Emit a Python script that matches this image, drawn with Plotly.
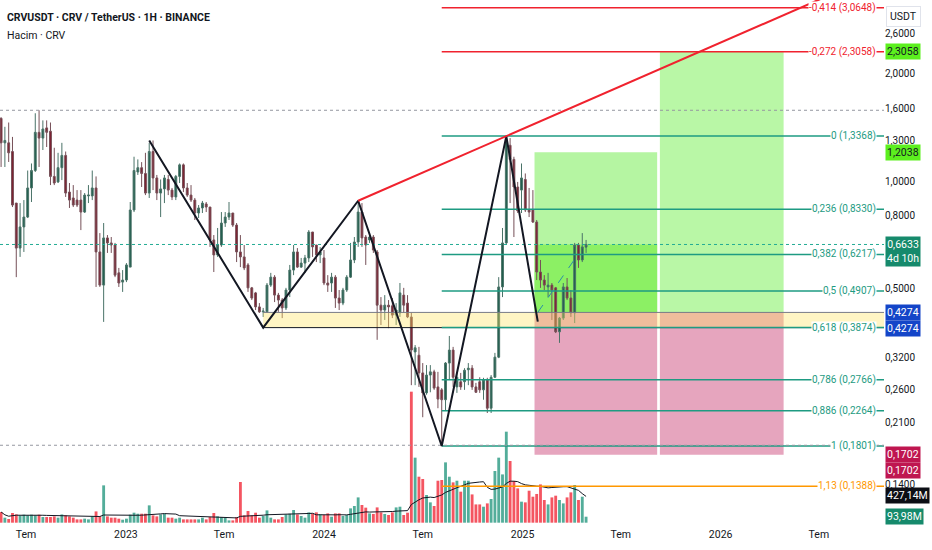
import math
import numpy as np
import pandas as pd
import plotly.graph_objects as go

# weekly candles CRV/USDT
FIRST_BAR = "2022-05-16"
OPEN = [1.50, 1.28, 1.28, 1.21, 0.867, 0.648, 0.743, 0.792, 0.956, 1.07,
        1.37, 1.32, 1.41, 1.38, 1.03, 0.994, 1.09, 1.18, 0.931, 0.896,
        0.884, 0.884, 0.818, 0.908, 0.908, 0.956, 0.632, 0.510, 0.692, 0.670,
        0.661, 0.552, 0.520, 0.527, 0.573, 0.829, 1.06, 1.09, 1.05, 0.925,
        1.21, 1.02, 0.925, 0.950, 1.01, 0.943, 0.902, 1.03, 1.11, 0.956,
        0.913, 0.884, 0.813, 0.840, 0.862, 0.845, 0.683, 0.620, 0.661, 0.762,
        0.792, 0.813, 0.752, 0.632, 0.612, 0.581, 0.501, 0.485, 0.443, 0.429,
        0.429, 0.510, 0.537, 0.478, 0.463, 0.440, 0.494, 0.562, 0.632, 0.573,
        0.588, 0.608, 0.719, 0.661, 0.620, 0.608, 0.517, 0.517, 0.537, 0.469,
        0.454, 0.494, 0.537, 0.600, 0.674, 0.818, 0.696, 0.683, 0.696, 0.632,
        0.448, 0.434, 0.448, 0.446, 0.420, 0.426, 0.478, 0.454, 0.415, 0.331,
        0.324, 0.289, 0.254, 0.285, 0.291, 0.264, 0.259, 0.243, 0.308, 0.335,
        0.264, 0.273, 0.273, 0.295, 0.298, 0.264, 0.273, 0.259, 0.276, 0.230,
        0.281, 0.320, 0.504, 0.670, 1.26, 1.15, 0.962, 0.943, 1.01, 0.829,
        0.829, 0.767, 0.555, 0.527, 0.504, 0.510, 0.501, 0.377, 0.412, 0.504,
        0.469, 0.426, 0.661, 0.600, 0.652]
HIGH = [1.51, 1.42, 1.46, 1.33, 0.867, 0.867, 0.884, 1.07, 1.12, 1.55,
        1.58, 1.48, 1.48, 1.46, 1.24, 1.20, 1.28, 1.21, 0.987, 0.974,
        0.943, 0.943, 0.925, 0.974, 1.07, 1.03, 0.714, 0.762, 0.705, 0.696,
        0.670, 0.570, 0.562, 0.588, 0.873, 1.17, 1.15, 1.13, 1.20, 1.28,
        1.30, 1.04, 1.01, 1.04, 1.04, 0.956, 1.04, 1.12, 1.12, 0.987,
        0.974, 0.896, 0.856, 0.879, 0.873, 0.845, 0.705, 0.738, 0.818, 0.818,
        0.873, 0.813, 0.762, 0.705, 0.661, 0.588, 0.504, 0.488, 0.454, 0.440,
        0.517, 0.552, 0.544, 0.485, 0.469, 0.501, 0.581, 0.661, 0.648, 0.608,
        0.620, 0.728, 0.719, 0.661, 0.652, 0.640, 0.544, 0.552, 0.544, 0.494,
        0.501, 0.544, 0.670, 0.696, 0.884, 0.867, 0.705, 0.714, 0.705, 0.640,
        0.472, 0.478, 0.463, 0.469, 0.454, 0.517, 0.501, 0.478, 0.426, 0.346,
        0.342, 0.308, 0.304, 0.304, 0.295, 0.291, 0.262, 0.310, 0.367, 0.342,
        0.289, 0.289, 0.298, 0.308, 0.304, 0.271, 0.281, 0.280, 0.280, 0.285,
        0.329, 0.537, 0.738, 1.34, 1.32, 1.17, 0.994, 1.12, 1.05, 0.956,
        0.943, 0.777, 0.600, 0.544, 0.552, 0.517, 0.504, 0.415, 0.517, 0.534,
        0.494, 0.670, 0.670, 0.714, 0.683]
LOW = [1.095, 1.095, 1.131, 0.845, 0.537, 0.612, 0.632, 0.787, 0.873, 1.060,
       1.095, 1.222, 1.246, 0.974, 0.974, 0.987, 1.006, 0.902, 0.840, 0.845,
       0.845, 0.728, 0.813, 0.867, 0.884, 0.504, 0.504, 0.402, 0.628, 0.628,
       0.537, 0.504, 0.488, 0.520, 0.573, 0.818, 1.040, 0.962, 0.913, 0.896,
       0.943, 0.884, 0.792, 0.867, 0.913, 0.884, 0.884, 0.987, 0.931, 0.902,
       0.873, 0.777, 0.787, 0.813, 0.818, 0.653, 0.555, 0.612, 0.653, 0.743,
       0.777, 0.743, 0.592, 0.573, 0.562, 0.488, 0.463, 0.434, 0.426, 0.415,
       0.426, 0.504, 0.457, 0.429, 0.412, 0.434, 0.472, 0.544, 0.570, 0.570,
       0.552, 0.592, 0.612, 0.592, 0.588, 0.510, 0.488, 0.488, 0.440, 0.434,
       0.448, 0.488, 0.534, 0.588, 0.653, 0.653, 0.581, 0.670, 0.628, 0.358,
       0.394, 0.407, 0.386, 0.412, 0.394, 0.415, 0.426, 0.412, 0.267, 0.267,
       0.264, 0.217, 0.251, 0.255, 0.259, 0.230, 0.181, 0.227, 0.276, 0.264,
       0.254, 0.259, 0.259, 0.267, 0.259, 0.254, 0.254, 0.243, 0.223, 0.223,
       0.280, 0.318, 0.472, 0.661, 0.867, 0.696, 0.813, 0.813, 0.818, 0.792,
       0.762, 0.527, 0.501, 0.494, 0.472, 0.407, 0.374, 0.351, 0.407, 0.463,
       0.415, 0.399, 0.570, 0.592, 0.628]
CLOSE = [1.28, 1.30, 1.20, 0.856, 0.648, 0.743, 0.792, 0.956, 1.07, 1.37,
         1.32, 1.40, 1.37, 1.03, 0.987, 1.09, 1.18, 0.925, 0.884, 0.856,
         0.856, 0.818, 0.913, 0.913, 0.956, 0.632, 0.510, 0.692, 0.670, 0.661,
         0.544, 0.517, 0.527, 0.581, 0.829, 1.07, 1.09, 1.05, 0.925, 1.21,
         1.02, 0.925, 0.950, 1.02, 0.943, 0.902, 1.03, 1.11, 0.956, 0.913,
         0.884, 0.813, 0.840, 0.867, 0.845, 0.683, 0.620, 0.661, 0.762, 0.792,
         0.813, 0.752, 0.632, 0.612, 0.570, 0.501, 0.469, 0.443, 0.429, 0.431,
         0.510, 0.537, 0.478, 0.463, 0.440, 0.494, 0.562, 0.632, 0.573, 0.588,
         0.608, 0.719, 0.653, 0.620, 0.632, 0.517, 0.510, 0.537, 0.469, 0.454,
         0.494, 0.537, 0.600, 0.674, 0.818, 0.692, 0.661, 0.696, 0.640, 0.448,
         0.434, 0.448, 0.443, 0.420, 0.434, 0.485, 0.448, 0.415, 0.335, 0.340,
         0.289, 0.254, 0.285, 0.291, 0.262, 0.244, 0.243, 0.308, 0.335, 0.281,
         0.281, 0.264, 0.294, 0.298, 0.264, 0.255, 0.259, 0.276, 0.230, 0.281,
         0.320, 0.504, 0.670, 1.30, 1.15, 0.962, 0.824, 1.02, 0.829, 0.818,
         0.767, 0.555, 0.527, 0.510, 0.510, 0.494, 0.377, 0.412, 0.504, 0.469,
         0.426, 0.661, 0.600, 0.653, 0.6633]
VOLUME_M = [168, 79, 58, 152, 130, 115, 126, 115, 126, 115,
            126, 89, 89, 89, 99, 79, 130, 115, 99, 79,
            52, 52, 63, 52, 99, 177, 99, 586, 99, 79,
            79, 63, 47, 63, 126, 157, 141, 141, 141, 272,
            115, 99, 130, 141, 79, 79, 63, 79, 52, 52,
            52, 52, 52, 79, 52, 89, 152, 99, 89, 79,
            36, 36, 89, 639, 115, 184, 115, 157, 79, 105,
            193, 79, 52, 52, 89, 130, 141, 199, 130, 105,
            79, 162, 146, 162, 130, 121, 146, 94, 146, 146,
            105, 121, 225, 262, 397, 278, 236, 146, 137, 240,
            162, 137, 121, 162, 240, 251, 121, 157, 2057, 1021,
            722, 686, 435, 319, 262, 659, 670, 947, 722, 633,
            659, 487, 659, 659, 444, 287, 287, 251, 303, 372,
            812, 1021, 758, 1429, 969, 655, 539, 330, 319, 502,
            408, 451, 601, 356, 287, 397, 424, 356, 303, 397,
            476, 592, 356, 408, 93.98]
VOL_MA_LAST = 427.14

# fibonacci retracement
FIB_START = "2024-08-05"
FIB_LEVELS = [-0.414, -0.272, 0, 0.236, 0.382, 0.5, 0.618, 0.786, 0.886, 1, 1.13]
FIB_PRICES = [3.0648, 2.3058, 1.3368, 0.8330, 0.6217, 0.4907, 0.3874, 0.2766, 0.2264, 0.1801, 0.1388]
FIB_COLORS = ["#f0222e", "#f0222e", "#1e9b82", "#1e9b82", "#1e9b82", "#1e9b82", "#1e9b82",
              "#1e9b82", "#1e9b82", "#1e9b82", "#ff9800"]

# zigzag pattern and trend line
ZZ_DATES = ["2023-02-13", "2023-09-11", "2024-03-04", "2024-08-05", "2024-12-02", "2025-01-29"]
ZZ_PRICES = [1.30, 0.3874, 0.880, 0.1801, 1.3368, 0.4025]
TREND_DATES = ["2024-03-04", "2024-12-02"]
TREND_PRICES = [0.880, 1.3368]
DASH_DATES = ["2025-01-29", "2025-04-06"]
DASH_PRICES = [0.4274, 0.600]

# support zone and long positions
BAND_START = "2023-09-11"
BAND = [0.3874, 0.4274]
ENTRY = 0.4274
STOP = 0.1702
POS1 = ["2025-01-23", "2025-09-06"]
POS1_TARGET = 1.2038
POS2 = ["2025-09-11", "2026-04-27"]
POS2_TARGET = 2.3058

X_RANGE = ["2022-05-14", "2026-10-29"]
X_TICKS = ["2022-07-01", "2023-01-01", "2023-07-01", "2024-01-01", "2024-07-01",
           "2025-01-01", "2025-07-01", "2026-01-01", "2026-07-01"]
X_LABELS = ["Tem", "2023", "Tem", "2024", "Tem", "2025", "Tem", "2026", "Tem"]
Y_TICKS = [0.14, 0.21, 0.26, 0.32, 0.50, 0.80, 1.0, 1.3, 1.6, 2.0, 2.6]

FONT = "Liberation Sans Narrow, Roboto, Arial, sans-serif"
INK = "#131722"


def comma(v, nd=4):
    return f"{v:.{nd}f}".replace(".", ",")


dates = pd.date_range(FIRST_BAR, periods=len(CLOSE), freq="7D")
up = [c >= o for o, c in zip(OPEN, CLOSE)]
vol_ma = pd.Series(VOLUME_M).rolling(20, min_periods=1).mean()

fig = go.Figure()

# volume on the hidden linear axis
fig.add_trace(go.Bar(x=dates, y=VOLUME_M, marker_color=["#53ad9a" if u else "#f45561" for u in up],
                     marker_line_width=0, width=7 * 86400000 * 0.75, yaxis="y", hoverinfo="skip"))
fig.add_trace(go.Scatter(x=dates, y=vol_ma, mode="lines", line=dict(color=INK, width=1),
                         yaxis="y", hoverinfo="skip"))


def zone(x0, x1, y0, y1, color):
    # floating bar: the bar layer sits under the candles
    t0, t1 = pd.Timestamp(x0), pd.Timestamp(x1)
    fig.add_trace(go.Bar(x=[t0 + (t1 - t0) / 2], y=[y1 - y0], base=[y0],
                         width=[(t1 - t0) / pd.Timedelta(milliseconds=1)],
                         marker=dict(color=color, line=dict(width=0)), yaxis="y2", hoverinfo="skip"))


def rect(x0, x1, y0, y1, color):
    fig.add_trace(go.Scatter(x=[x0, x1, x1, x0, x0], y=[y0, y0, y1, y1, y0], mode="lines",
                             fill="toself", fillcolor=color, line=dict(width=0),
                             yaxis="y2", hoverinfo="skip"))


def hline(x0, x1, y, color, width=1.5, dash="solid"):
    fig.add_trace(go.Scatter(x=[x0, x1], y=[y, y], mode="lines",
                             line=dict(color=color, width=width, dash=dash),
                             yaxis="y2", hoverinfo="skip"))


zone(POS1[0], POS1[1], ENTRY, POS1_TARGET, "#b5f5a2")
zone(POS1[0], POS1[1], ENTRY, CLOSE[-1], "#8cf064")
zone(POS1[0], POS1[1], STOP, ENTRY, "#e6a5be")
zone(POS2[0], POS2[1], ENTRY, POS2_TARGET, "#b9f7a6")
zone(POS2[0], POS2[1], STOP, ENTRY, "#e6a5be")

fig.add_trace(go.Candlestick(x=dates, open=OPEN, high=HIGH, low=LOW, close=CLOSE, yaxis="y2",
                             increasing=dict(line=dict(color="#4a7368", width=1), fillcolor="#1d5c4b"),
                             decreasing=dict(line=dict(color="#765058", width=1), fillcolor="#7e1e2e"),
                             whiskerwidth=0, hoverinfo="skip"))

rect(BAND_START, X_RANGE[1], BAND[0], BAND[1], "rgba(255,228,100,0.38)")
hline(BAND_START, X_RANGE[1], BAND[1], "#787b86", 1)
hline(BAND_START, X_RANGE[1], BAND[0], INK, 1)

for p, col in zip(FIB_PRICES, FIB_COLORS):
    hline(FIB_START, X_RANGE[1], p, col, 1.5)

# high / low and last price lines
hline(X_RANGE[0], X_RANGE[1], max(HIGH), "#9598a1", 1, "dot")
hline(X_RANGE[0], X_RANGE[1], min(LOW), "#9598a1", 1, "dot")
hline(X_RANGE[0], X_RANGE[1], CLOSE[-1], "#22ab94", 1, "dot")

fig.add_trace(go.Scatter(x=ZZ_DATES, y=ZZ_PRICES, mode="lines", line=dict(color=INK, width=2),
                         yaxis="y2", hoverinfo="skip"))
fig.add_trace(go.Scatter(x=DASH_DATES, y=DASH_PRICES, mode="lines",
                         line=dict(color="#2a8fa8", width=1, dash="dash"), yaxis="y2", hoverinfo="skip"))

# trend line through the two highs, carried on to the right edge
t0, t1, tr = [pd.Timestamp(d).value for d in (TREND_DATES[0], TREND_DATES[1], X_RANGE[1])]
lp0, lp1 = math.log(TREND_PRICES[0]), math.log(TREND_PRICES[1])
p_right = math.exp(lp0 + (lp1 - lp0) * (tr - t0) / (t1 - t0))
fig.add_trace(go.Scatter(x=[TREND_DATES[0], X_RANGE[1]], y=[TREND_PRICES[0], p_right], mode="lines",
                         line=dict(color="#f0222e", width=2), yaxis="y2", hoverinfo="skip"))

ann = []
for lvl, p, col in zip(FIB_LEVELS, FIB_PRICES, FIB_COLORS):
    txt = f"{lvl:g}".replace(".", ",") + " (" + comma(p) + ")"
    ann.append(dict(text=txt, xref="paper", x=877 / 884, xanchor="right", yref="y2", y=math.log10(p),
                    showarrow=False, font=dict(family=FONT, size=10, color=col),
                    bgcolor="white", borderpad=0))


def box(text, y, bg, fg="white", yref="y2", yshift=0, yanchor="middle"):
    ann.append(dict(text=text, xref="paper", x=1, xanchor="left", xshift=1, yref=yref, y=y,
                    yanchor=yanchor, yshift=yshift, showarrow=False, align="center",
                    font=dict(family=FONT, size=10.5, color=fg), bgcolor=bg, borderpad=1))


box(comma(POS2_TARGET), math.log10(POS2_TARGET), "#5cf01e", INK)
box(comma(POS1_TARGET), math.log10(POS1_TARGET), "#5cf01e", INK)
box(comma(CLOSE[-1]) + "<br>4d 10h", math.log10(CLOSE[-1]), "#168a6c", yshift=8, yanchor="top")
box(comma(ENTRY), math.log10(ENTRY), "#1445c8")
box(comma(ENTRY), math.log10(ENTRY), "#1445c8", yshift=-16)
box(comma(STOP), math.log10(STOP), "#bf1650")
box(comma(STOP), math.log10(STOP), "#bf1650", yshift=-16)
box(comma(VOL_MA_LAST, 2) + "M", VOL_MA_LAST, "#0c0e15", yref="y")
box(comma(VOLUME_M[-1], 2) + "M", VOLUME_M[-1], "#168a6c", yref="y")

ann.append(dict(text="USDT", xref="paper", x=1, xanchor="left", xshift=2, yref="paper", y=1,
                yanchor="top", yshift=-6, showarrow=False, font=dict(family=FONT, size=10.5, color=INK),
                bgcolor="white", bordercolor="#e0e3eb", borderwidth=1, borderpad=3))
ann.append(dict(text="<b>CRVUSDT · CRV / TetherUS · 1H · BINANCE</b>", xref="paper", x=0, xanchor="left",
                xshift=5, yref="paper", y=1, yanchor="middle", yshift=-17, showarrow=False,
                font=dict(family=FONT, size=10.5, color=INK)))
ann.append(dict(text="Hacim · CRV", xref="paper", x=0, xanchor="left", xshift=5, yref="paper", y=1,
                yanchor="middle", yshift=-35, showarrow=False, font=dict(family=FONT, size=10.5, color=INK)))

fig.update_layout(
    width=932, height=550, margin=dict(l=0, r=48, t=0, b=24), showlegend=False,
    plot_bgcolor="white", paper_bgcolor="white", hovermode=False, barmode="overlay",
    font=dict(family=FONT, color=INK),
    xaxis=dict(type="date", range=X_RANGE, rangeslider=dict(visible=False), showgrid=False,
               zeroline=False, showline=False, ticks="", tickvals=X_TICKS, ticktext=X_LABELS,
               tickfont=dict(family=FONT, size=10.5, color=INK)),
    yaxis=dict(range=[-52, 8206], visible=False, fixedrange=True),
    yaxis2=dict(type="log", overlaying="y", side="right",
                range=[math.log10(0.10737), math.log10(3.2244)], showgrid=False, zeroline=False,
                showline=False, ticks="", tickvals=Y_TICKS, ticktext=[comma(t) for t in Y_TICKS],
                tickfont=dict(family=FONT, size=10, color=INK)),
    annotations=ann,
)
# the page body has a default 8px margin; drop it so the chart sits at the window corner
fig.write_html("out.html", config={"displayModeBar": False},
               post_script="document.body.style.margin='0';")
